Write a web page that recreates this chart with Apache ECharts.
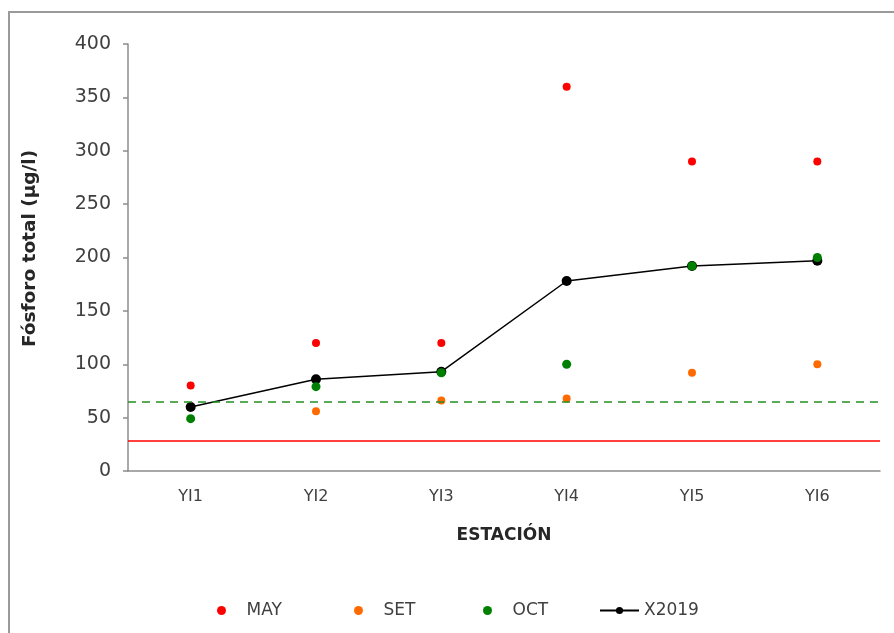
<!DOCTYPE html>
<html>
<head>
<meta charset="utf-8">
<title>Fósforo total</title>
<script src="https://cdn.jsdelivr.net/npm/echarts@6/dist/echarts.min.js"></script>
<style>
  html, body { margin: 0; padding: 0; background: #fff; }
  #main { position: absolute; left: 0; top: 0; width: 894px; height: 633px; }
  #frame { position: absolute; left: 8px; top: 11px; width: 900px; height: 700px;
           border-top: 2px solid #9a9a9a; border-left: 2px solid #9a9a9a; pointer-events: none; }
</style>
</head>
<body>
<div id="main"></div>
<div id="frame"></div>
<script>
// estaciones
const estaciones = ["YI1", "YI2", "YI3", "YI4", "YI5", "YI6"];

// valores por campaña (µg/l)
const may = [80, 120, 120, 360, 290, 290];
const set = [null, 56, 66, 68, 92, 100];
const oct = [49, 79, 92, 100, 192, 200];
const x2019 = [60, 86, 93, 178, 192, 197];

// límites de referencia
const limiteVerde = 65;
const limiteRojo = 28;

const txt = "#404040";
const ejes = "#8c8c8c";

// una leyenda por serie, para colocar cada una como en el original
function leyenda(nombre, x, ancho) {
  return {
    left: x,
    top: 597,
    itemWidth: ancho,
    itemHeight: 9,
    textStyle: { fontFamily: "DejaVu Sans", fontSize: 17, color: txt },
    data: [nombre]
  };
}

let myChart = echarts.init(document.getElementById("main"));
myChart.setOption({
  animation: false,
  grid: { left: 128, right: 14, top: 44, bottom: 162 },
  legend: [
    leyenda("MAY", 212, 40),
    leyenda("SET", 349, 40),
    leyenda("OCT", 478, 40),
    leyenda("X2019", 594, 39)
  ],
  xAxis: {
    type: "category",
    data: estaciones,
    name: "ESTACIÓN",
    nameLocation: "middle",
    nameGap: 56,
    nameTextStyle: { fontFamily: "DejaVu Sans", fontWeight: "bold", fontSize: 17, color: "#262626" },
    axisLine: { lineStyle: { color: ejes, width: 1.5 } },
    axisTick: { length: 5, lineStyle: { color: ejes, width: 1.5 } },
    axisLabel: { fontFamily: "DejaVu Sans", fontSize: 16, color: txt, margin: 18 }
  },
  yAxis: {
    type: "value",
    min: 0,
    max: 400,
    interval: 50,
    name: "Fósforo total (µg/l)",
    nameLocation: "middle",
    nameGap: 88,
    nameTextStyle: { fontFamily: "DejaVu Sans", fontWeight: "bold", fontSize: 18.5, color: "#262626", padding: [0, 0, 0, 18] },
    splitLine: { show: false },
    axisLine: { show: true, lineStyle: { color: ejes, width: 1.5 } },
    axisTick: { show: true, length: 5, lineStyle: { color: ejes, width: 1.5 } },
    axisLabel: { fontFamily: "DejaVu Sans", fontSize: 19, color: txt, margin: 17 }
  },
  series: [
    {
      name: "MAY",
      type: "scatter",
      data: may,
      symbolSize: 8,
      itemStyle: { color: "#ff0000", opacity: 1 },
      z: 3
    },
    {
      name: "SET",
      type: "scatter",
      data: set,
      symbolSize: 8,
      itemStyle: { color: "#ff6a00", opacity: 1 },
      z: 3
    },
    {
      name: "X2019",
      type: "line",
      data: x2019,
      symbol: "circle",
      symbolSize: 10,
      itemStyle: { color: "#000" },
      lineStyle: { color: "#000", width: 1.5 },
      z: 3,
      markLine: {
        silent: true,
        symbol: "none",
        label: { show: false },
        data: [
          { yAxis: limiteVerde, lineStyle: { color: "#248f24", type: [8, 6], width: 1.6, opacity: 1 } },
          { yAxis: limiteRojo, lineStyle: { color: "#ff0000", type: "solid", width: 1.5, opacity: 1 } }
        ]
      }
    },
    {
      name: "OCT",
      type: "scatter",
      data: oct,
      symbolSize: 9,
      itemStyle: { color: "#008000", opacity: 1 },
      z: 4
    }
  ]
});
</script>
</body>
</html>
